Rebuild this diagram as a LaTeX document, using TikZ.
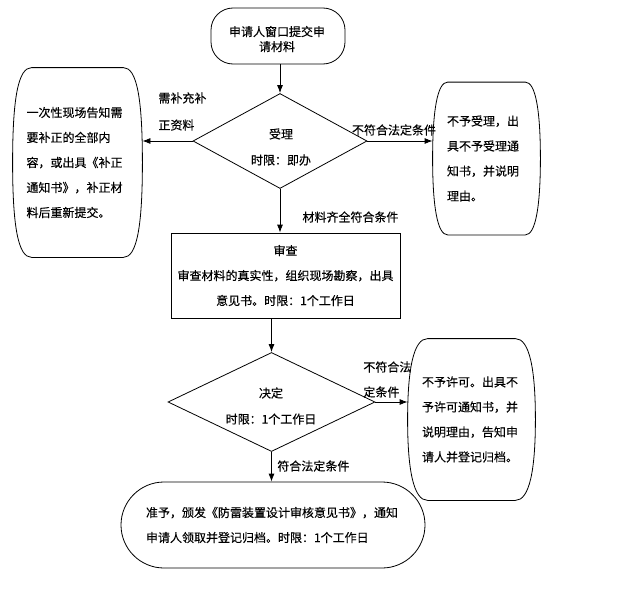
\documentclass[tikz,border=0pt]{standalone}
\usepackage{fontspec}
\setmainfont{Noto Sans CJK SC}[FakeBold=0.3]
\usepackage{tikz}
\usetikzlibrary{shapes.geometric,arrows.meta}

% box with bowed sides, #2 = inset of the straight top/bottom edge
\newcommand{\bowbox}[2]{%
\draw ([xshift=#2]#1.north west) -- ([xshift=-#2]#1.north east)
  .. controls ([xshift=-0.3*#2]#1.north east) and ([yshift=-30pt]#1.north east) .. (#1.east)
  .. controls ([yshift=30pt]#1.south east) and ([xshift=-0.3*#2]#1.south east) .. ([xshift=-#2]#1.south east)
  -- ([xshift=#2]#1.south west)
  .. controls ([xshift=0.3*#2]#1.south west) and ([yshift=30pt]#1.south west) .. (#1.west)
  .. controls ([yshift=-30pt]#1.north west) and ([xshift=0.3*#2]#1.north west) .. cycle;}

\begin{document}
\begin{tikzpicture}[x=1pt,y=-1pt,line width=0.8pt,>={Latex[length=8pt,width=6pt]},
  every node/.style={font=\fontsize{12}{25}\selectfont,inner sep=0pt}]
\useasboundingbox (0,0) rectangle (632,605);
\node[draw,rounded corners=22pt,minimum width=134pt,minimum height=56pt] (apply) at (278,36) {};
\node[align=center,font=\fontsize{12}{15}\selectfont] (applytext) at (277,39) {申请人窗口提交申\\请材料};
\node[draw,diamond,minimum width=174pt,minimum height=95pt] (accept) at (280,141) {};
\node[align=center,font=\fontsize{12}{26}\selectfont] (accepttext) at (281,147) {受理\\时限：即办};
\node[minimum width=129pt,minimum height=189pt,text width=102pt,align=left] (supply) at (77.5,162.5)
  {一次性现场告知需\\要补正的全部内\\容，或出具《补正\\通知书》，补正材\\料后重新提交。};
\node[minimum width=107pt,minimum height=152pt,text width=79pt,align=left] (refuse) at (486.5,158.5)
  {不予受理，出\\具不予受理通\\知书，并说明\\理由。};
\node[draw,minimum width=229pt,minimum height=85pt,align=center] (review) at (285.5,275.5)
  {审查\\审查材料的真实性，组织现场勘察，出具\\意见书。时限：1个工作日};
\node[draw,diamond,minimum width=207pt,minimum height=99pt] (decide) at (271.5,402) {};
\node[align=center,font=\fontsize{12}{26}\selectfont] (decidetext) at (271,406) {决定\\时限：1个工作日};
\node[minimum width=127pt,minimum height=161pt,text width=99pt,align=left] (deny) at (471.5,419.5)
  {不予许可。出具不\\予许可通知书，并\\说明理由，告知申\\请人并登记归档。};
\node[draw,rounded corners=43pt,minimum width=304pt,minimum height=86pt,text width=254pt,align=left]
  (grant) at (273,525) {准予，颁发《防雷装置设计审核意见书》，通知\\申请人领取并登记归档。时限：1个工作日};
\bowbox{supply}{19pt}
\bowbox{refuse}{15pt}
\bowbox{deny}{20pt}
% labels
\node[anchor=west,align=left,font=\fontsize{12}{27}\selectfont] (lsupply) at (158,111.5) {需补充补\\正资料};
\node (lrefuse) at (394,130) {不符合法定条件};
\node (lcomplete) at (350.5,217) {材料齐全符合条件};
\node[anchor=west,align=left] (ldeny) at (363,379.5) {不符合法\\定条件};
\node[anchor=west] (lgrant) at (277,466) {符合法定条件};
% arrows
\draw[->] (apply.south -| accept.north) -- (accept.north);
\draw[->] (accept.west) -- (accept.west -| supply.east);
\draw[->] (accept.east) -- (accept.east -| refuse.west);
\draw[->] (accept.south) -- (accept.south |- review.north);
\draw[->] (decide.north |- review.south) -- (decide.north);
\draw[->] (decide.east) -- (decide.east -| deny.west);
\draw[->] (decide.south) -- (decide.south |- grant.north);
\end{tikzpicture}
\end{document}
